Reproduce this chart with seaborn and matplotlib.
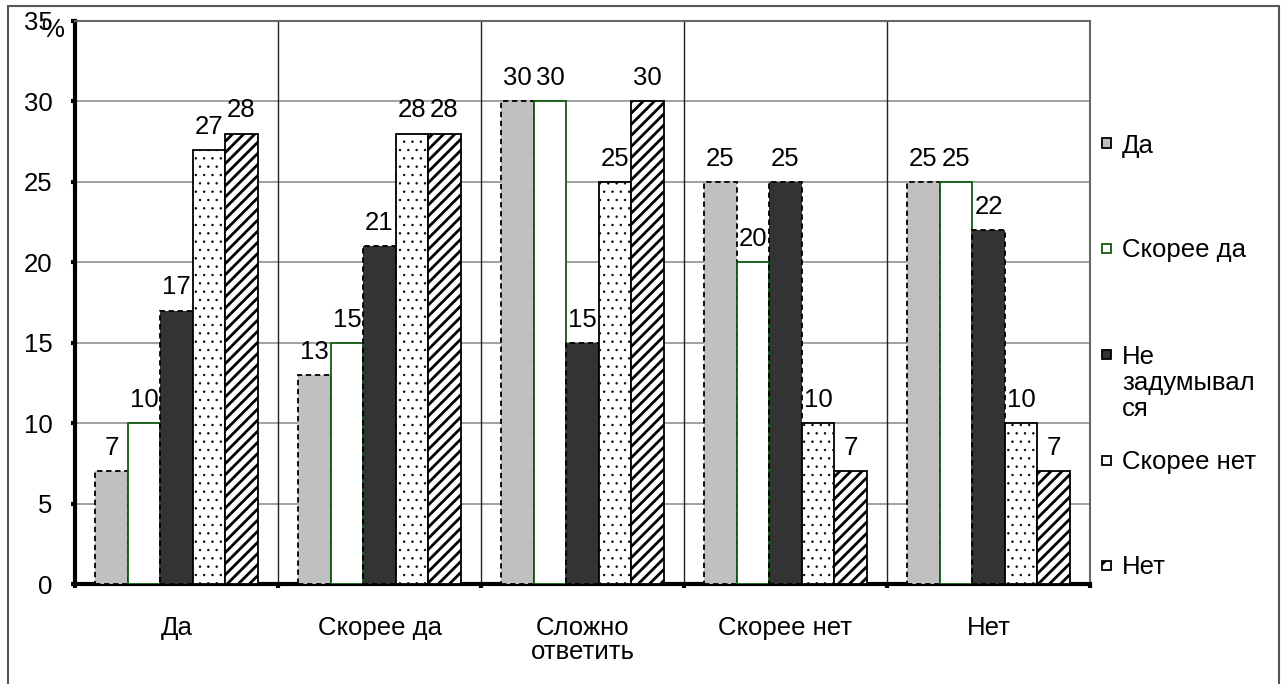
import matplotlib
matplotlib.use("Agg")
import matplotlib.pyplot as plt
import pandas as pd
import seaborn as sns
from matplotlib.lines import Line2D
from matplotlib.patches import Rectangle

# ---- data ----
categories = ["Да", "Скорее да", "Сложно\nответить", "Скорее нет", "Нет"]
series = ["Да", "Скорее да", "Не задумывался", "Скорее нет", "Нет"]
legend_labels = ["Да", "Скорее да", "Не\nзадумывал\nся", "Скорее нет", "Нет"]

val_da = [7, 13, 30, 25, 25]
val_skoree_da = [10, 15, 30, 20, 25]
val_ne_zadumyvalsya = [17, 21, 15, 25, 22]
val_skoree_net = [27, 28, 25, 10, 10]
val_net = [28, 28, 30, 7, 7]

y_ticks = [0, 5, 10, 15, 20, 25, 30, 35]

sns.set_style("white")
plt.rcParams["font.family"] = ["Liberation Sans", "DejaVu Sans"]
plt.rcParams["hatch.linewidth"] = 1.6
for key in ["text.color", "xtick.color", "ytick.color", "axes.labelcolor"]:
    plt.rcParams[key] = "black"

FS = 18.5
W, H = 1284, 684

rows = []
for name, vals in zip(series, [val_da, val_skoree_da, val_ne_zadumyvalsya,
                               val_skoree_net, val_net]):
    for cat, v in zip(categories, vals):
        rows.append({"category": cat, "series": name, "value": v})
df = pd.DataFrame(rows)

# bar styles per series (fill, edge, line style, hatch, hatch width)
styles = [
    dict(facecolor="#c0c0c0", edgecolor="black", linestyle=(0, (3, 2)), hatch=None, hlw=1),
    dict(facecolor="white", edgecolor="#0f5a0f", linestyle="-", hatch=None, hlw=1),
    dict(facecolor="#333333", edgecolor="black", linestyle=(0, (3, 2)), hatch=None, hlw=1),
    dict(facecolor="white", edgecolor="black", linestyle="-", hatch="..", hlw=0.5),
    dict(facecolor="white", edgecolor="black", linestyle="-", hatch="///", hlw=2.0),
]

fig = plt.figure(figsize=(W / 100, H / 100), dpi=100)
ax = fig.add_axes([75 / W, 1 - 584 / H, (1090 - 75) / W, (584 - 21) / H])

sns.barplot(
    data=df, x="category", y="value", hue="series",
    order=categories, hue_order=series,
    palette=["#c0c0c0", "white", "#333333", "white", "white"],
    saturation=1, width=0.8, gap=0, legend=False, ax=ax,
)

for container, st in zip(ax.containers, styles):
    for bar in container:
        bar.set_facecolor(st["facecolor"])
        bar.set_edgecolor(st["edgecolor"])
        bar.set_linestyle(st["linestyle"])
        bar.set_linewidth(1.3)
        if st["hatch"]:
            bar.set_hatch(st["hatch"])
            if hasattr(bar, "set_hatch_linewidth"):
                bar.set_hatch_linewidth(st["hlw"])
        bar.set_zorder(3)
    ax.bar_label(container, fmt="%g", padding=8, fontsize=FS, zorder=4)

# axes and grid
ax.set_ylim(0, 35)
ax.set_xlim(-0.5, 4.5)
ax.set_yticks(y_ticks)
ax.set_xlabel("")
ax.set_ylabel("")
ax.yaxis.grid(True, color="#999999", linewidth=1.3)
ax.set_axisbelow(True)
for xb in [0.5, 1.5, 2.5, 3.5]:
    ax.axvline(xb, color="#222222", linewidth=1.0, zorder=1)

for side in ["left", "bottom"]:
    ax.spines[side].set_color("black")
    ax.spines[side].set_linewidth(3)
for side in ["top", "right"]:
    ax.spines[side].set_color("#666666")
    ax.spines[side].set_linewidth(1.5)

ax.tick_params(axis="y", direction="out", length=3, width=3, color="black",
               pad=13, labelsize=FS, left=True)
ax.tick_params(axis="x", which="major", length=0, pad=23, labelsize=FS)
for lbl in ax.get_xticklabels():
    lbl.set_linespacing(1.0)
ax.set_xticks([-0.5, 0.5, 1.5, 2.5, 3.5, 4.5], minor=True)
ax.tick_params(axis="x", which="minor", direction="out", length=3, width=3,
               color="black", bottom=True)

fig.text(41 / W, 1 - 30 / H, "%", fontsize=FS, ha="left", va="center")

# legend, laid out like the original (one entry every ~105 px)
legend_y = [143, 248, 355, 460, 565]
for lbl, st, yc in zip(legend_labels, styles, legend_y):
    sq = Rectangle((1102 / W, 1 - (yc + 4.5) / H), 9 / W, 9 / H,
                   transform=fig.transFigure, facecolor=st["facecolor"],
                   edgecolor=st["edgecolor"], linewidth=1.3,
                   linestyle="-", hatch="//" if st["hatch"] == "///" else None)
    fig.add_artist(sq)
    fig.text(1122 / W, 1 - (yc - 9.5) / H, lbl, fontsize=FS, ha="left",
             va="top", linespacing=1.1)

# outer frame of the picture
frame_kw = dict(transform=fig.transFigure, color="#555555", linewidth=1.5)
fig.add_artist(Line2D([8 / W, 8 / W], [0, 1 - 6 / H], **frame_kw))
fig.add_artist(Line2D([8 / W, 1279 / W], [1 - 6 / H, 1 - 6 / H], **frame_kw))
fig.add_artist(Line2D([1279 / W, 1279 / W], [0, 1 - 6 / H], **frame_kw))

fig.savefig("out.png", dpi=100)
